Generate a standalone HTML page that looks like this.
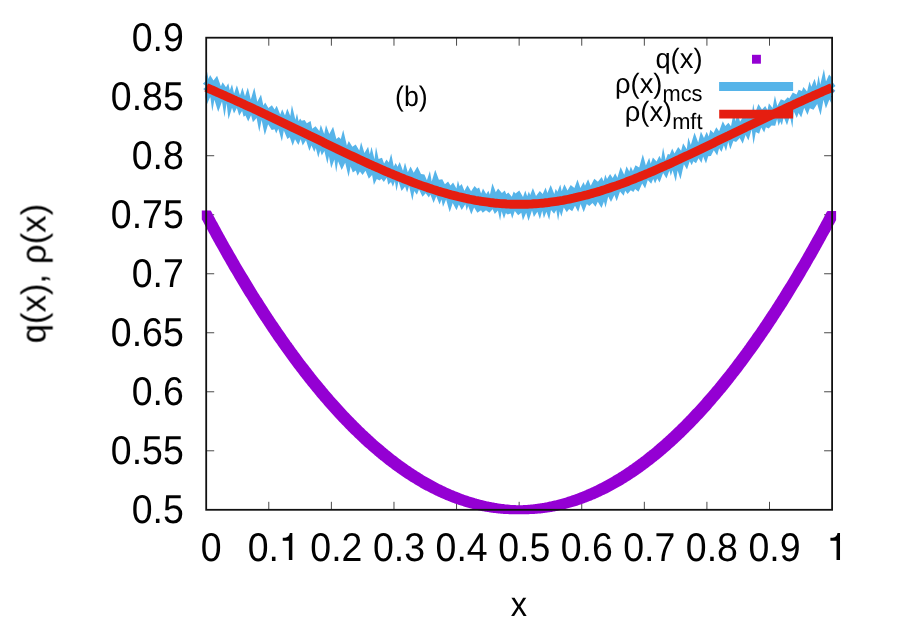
<!DOCTYPE html>
<html><head><meta charset="utf-8"><title>plot</title>
<style>html,body{margin:0;padding:0;background:#fff;overflow:hidden}svg{display:block}</style>
</head><body>
<svg width="900" height="630" viewBox="0 0 900 630">
<rect width="900" height="630" fill="#fff"/>
<path d="M268.79 509.80v-8M268.79 37.70v8M331.38 509.80v-8M331.38 37.70v8M393.97 509.80v-8M393.97 37.70v8M456.56 509.80v-8M456.56 37.70v8M519.15 509.80v-8M519.15 37.70v8M581.74 509.80v-8M581.74 37.70v8M644.33 509.80v-8M644.33 37.70v8M706.92 509.80v-8M706.92 37.70v8M769.51 509.80v-8M769.51 37.70v8M206.20 450.79h8M832.10 450.79h-8M206.20 391.78h8M832.10 391.78h-8M206.20 332.76h8M832.10 332.76h-8M206.20 273.75h8M832.10 273.75h-8M206.20 214.74h8M832.10 214.74h-8M206.20 155.72h8M832.10 155.72h-8M206.20 96.71h8M832.10 96.71h-8" stroke="#4a4a4a" stroke-width="1.0" fill="none"/>
<path d="M201.8 210.5L202.8 210.5L203.7 210.5L204.6 210.5L205.5 210.5L206.4 210.5L207.3 210.5L208.2 210.5L209.1 210.5L210.0 210.5L210.9 210.8L211.8 212.5L212.7 214.2L213.6 215.9L214.5 217.6L215.4 219.3L216.3 220.9L217.3 222.6L218.2 224.3L219.1 225.9L220.0 227.6L220.9 229.3L221.8 230.9L222.7 232.6L223.6 234.2L224.5 235.8L225.4 237.5L226.3 239.1L227.2 240.7L228.1 242.3L229.0 243.9L229.9 245.5L230.8 247.1L231.8 248.7L232.7 250.3L233.6 251.9L234.5 253.5L235.4 255.1L236.3 256.6L237.2 258.2L238.1 259.8L239.0 261.3L239.9 262.9L240.8 264.4L241.7 266.0L242.6 267.5L243.5 269.0L244.4 270.6L245.3 272.1L246.2 273.6L247.2 275.1L248.1 276.6L249.0 278.1L249.9 279.6L250.8 281.1L251.7 282.6L252.6 284.1L253.5 285.6L254.4 287.0L255.3 288.5L256.2 290.0L257.1 291.4L258.0 292.9L258.9 294.3L259.8 295.8L260.7 297.2L261.7 298.6L262.6 300.1L263.5 301.5L264.4 302.9L265.3 304.3L266.2 305.7L267.1 307.1L268.0 308.5L268.9 309.9L269.8 311.3L270.7 312.7L271.6 314.1L272.5 315.4L273.4 316.8L274.3 318.2L275.2 319.5L276.1 320.9L277.1 322.2L278.0 323.6L278.9 324.9L279.8 326.2L280.7 327.6L281.6 328.9L282.5 330.2L283.4 331.5L284.3 332.8L285.2 334.1L286.1 335.4L287.0 336.7L287.9 338.0L288.8 339.3L289.7 340.6L290.6 341.9L291.6 343.1L292.5 344.4L293.4 345.6L294.3 346.9L295.2 348.2L296.1 349.4L297.0 350.6L297.9 351.9L298.8 353.1L299.7 354.3L300.6 355.5L301.5 356.8L302.4 358.0L303.3 359.2L304.2 360.4L305.1 361.6L306.0 362.8L307.0 363.9L307.9 365.1L308.8 366.3L309.7 367.5L310.6 368.6L311.5 369.8L312.4 371.0L313.3 372.1L314.2 373.2L315.1 374.4L316.0 375.5L316.9 376.7L317.8 377.8L318.7 378.9L319.6 380.0L320.5 381.1L321.5 382.2L322.4 383.3L323.3 384.4L324.2 385.5L325.1 386.6L326.0 387.7L326.9 388.8L327.8 389.8L328.7 390.9L329.6 392.0L330.5 393.0L331.4 394.1L332.3 395.1L333.2 396.2L334.1 397.2L335.0 398.2L335.9 399.3L336.9 400.3L337.8 401.3L338.7 402.3L339.6 403.3L340.5 404.3L341.4 405.3L342.3 406.3L343.2 407.3L344.1 408.3L345.0 409.3L345.9 410.2L346.8 411.2L347.7 412.2L348.6 413.1L349.5 414.1L350.4 415.0L351.4 416.0L352.3 416.9L353.2 417.8L354.1 418.8L355.0 419.7L355.9 420.6L356.8 421.5L357.7 422.4L358.6 423.3L359.5 424.2L360.4 425.1L361.3 426.0L362.2 426.9L363.1 427.8L364.0 428.6L364.9 429.5L365.8 430.4L366.8 431.2L367.7 432.1L368.6 432.9L369.5 433.8L370.4 434.6L371.3 435.5L372.2 436.3L373.1 437.1L374.0 437.9L374.9 438.7L375.8 439.6L376.7 440.4L377.6 441.2L378.5 441.9L379.4 442.7L380.3 443.5L381.3 444.3L382.2 445.1L383.1 445.8L384.0 446.6L384.9 447.4L385.8 448.1L386.7 448.9L387.6 449.6L388.5 450.4L389.4 451.1L390.3 451.8L391.2 452.6L392.1 453.3L393.0 454.0L393.9 454.7L394.8 455.4L395.7 456.1L396.7 456.8L397.6 457.5L398.5 458.2L399.4 458.9L400.3 459.5L401.2 460.2L402.1 460.9L403.0 461.5L403.9 462.2L404.8 462.8L405.7 463.5L406.6 464.1L407.5 464.8L408.4 465.4L409.3 466.0L410.2 466.6L411.2 467.3L412.1 467.9L413.0 468.5L413.9 469.1L414.8 469.7L415.7 470.3L416.6 470.8L417.5 471.4L418.4 472.0L419.3 472.6L420.2 473.1L421.1 473.7L422.0 474.3L422.9 474.8L423.8 475.4L424.7 475.9L425.6 476.4L426.6 477.0L427.5 477.5L428.4 478.0L429.3 478.5L430.2 479.1L431.1 479.6L432.0 480.1L432.9 480.6L433.8 481.1L434.7 481.5L435.6 482.0L436.5 482.5L437.4 483.0L438.3 483.4L439.2 483.9L440.1 484.4L441.1 484.8L442.0 485.3L442.9 485.7L443.8 486.2L444.7 486.6L445.6 487.0L446.5 487.4L447.4 487.9L448.3 488.3L449.2 488.7L450.1 489.1L451.0 489.5L451.9 489.9L452.8 490.3L453.7 490.6L454.6 491.0L455.6 491.4L456.5 491.8L457.4 492.1L458.3 492.5L459.2 492.8L460.1 493.2L461.0 493.5L461.9 493.9L462.8 494.2L463.7 494.5L464.6 494.9L465.5 495.2L466.4 495.5L467.3 495.8L468.2 496.1L469.1 496.4L470.0 496.7L471.0 497.0L471.9 497.3L472.8 497.6L473.7 497.8L474.6 498.1L475.5 498.4L476.4 498.6L477.3 498.9L478.2 499.1L479.1 499.4L480.0 499.6L480.9 499.9L481.8 500.1L482.7 500.3L483.6 500.5L484.5 500.8L485.5 501.0L486.4 501.2L487.3 501.4L488.2 501.6L489.1 501.8L490.0 501.9L490.9 502.1L491.8 502.3L492.7 502.5L493.6 502.6L494.5 502.8L495.4 503.0L496.3 503.1L497.2 503.3L498.1 503.4L499.0 503.5L499.9 503.7L500.9 503.8L501.8 503.9L502.7 504.0L503.6 504.1L504.5 504.2L505.4 504.4L506.3 504.4L507.2 504.5L508.1 504.6L509.0 504.7L509.9 504.8L510.8 504.9L511.7 504.9L512.6 505.0L513.5 505.0L514.4 505.1L515.4 505.1L516.3 505.2L517.2 505.2L518.1 505.3L519.0 505.3L519.9 505.3L520.8 505.2L521.7 505.2L522.6 505.2L523.5 505.1L524.4 505.1L525.3 505.0L526.2 504.9L527.1 504.9L528.0 504.8L528.9 504.7L529.8 504.7L530.8 504.6L531.7 504.5L532.6 504.4L533.5 504.3L534.4 504.2L535.3 504.1L536.2 504.0L537.1 503.8L538.0 503.7L538.9 503.6L539.8 503.4L540.7 503.3L541.6 503.2L542.5 503.0L543.4 502.9L544.3 502.7L545.3 502.5L546.2 502.4L547.1 502.2L548.0 502.0L548.9 501.8L549.8 501.6L550.7 501.4L551.6 501.2L552.5 501.0L553.4 500.8L554.3 500.6L555.2 500.4L556.1 500.2L557.0 500.0L557.9 499.7L558.8 499.5L559.7 499.2L560.7 499.0L561.6 498.7L562.5 498.5L563.4 498.2L564.3 497.9L565.2 497.7L566.1 497.4L567.0 497.1L567.9 496.8L568.8 496.5L569.7 496.2L570.6 495.9L571.5 495.6L572.4 495.3L573.3 495.0L574.2 494.7L575.2 494.3L576.1 494.0L577.0 493.7L577.9 493.3L578.8 493.0L579.7 492.6L580.6 492.3L581.5 491.9L582.4 491.5L583.3 491.2L584.2 490.8L585.1 490.4L586.0 490.0L586.9 489.6L587.8 489.2L588.7 488.8L589.6 488.4L590.6 488.0L591.5 487.6L592.4 487.2L593.3 486.8L594.2 486.3L595.1 485.9L596.0 485.4L596.9 485.0L597.8 484.5L598.7 484.1L599.6 483.6L600.5 483.2L601.4 482.7L602.3 482.2L603.2 481.7L604.1 481.2L605.1 480.8L606.0 480.3L606.9 479.8L607.8 479.3L608.7 478.7L609.6 478.2L610.5 477.7L611.4 477.2L612.3 476.7L613.2 476.1L614.1 475.6L615.0 475.0L615.9 474.5L616.8 473.9L617.7 473.4L618.6 472.8L619.5 472.2L620.5 471.7L621.4 471.1L622.3 470.5L623.2 469.9L624.1 469.3L625.0 468.7L625.9 468.1L626.8 467.5L627.7 466.9L628.6 466.3L629.5 465.6L630.4 465.0L631.3 464.4L632.2 463.7L633.1 463.1L634.0 462.4L635.0 461.8L635.9 461.1L636.8 460.5L637.7 459.8L638.6 459.1L639.5 458.4L640.4 457.8L641.3 457.1L642.2 456.4L643.1 455.7L644.0 455.0L644.9 454.3L645.8 453.5L646.7 452.8L647.6 452.1L648.5 451.4L649.4 450.6L650.4 449.9L651.3 449.2L652.2 448.4L653.1 447.7L654.0 446.9L654.9 446.1L655.8 445.4L656.7 444.6L657.6 443.8L658.5 443.0L659.4 442.3L660.3 441.5L661.2 440.7L662.1 439.9L663.0 439.1L663.9 438.2L664.9 437.4L665.8 436.6L666.7 435.8L667.6 434.9L668.5 434.1L669.4 433.3L670.3 432.4L671.2 431.6L672.1 430.7L673.0 429.8L673.9 429.0L674.8 428.1L675.7 427.2L676.6 426.4L677.5 425.5L678.4 424.6L679.3 423.7L680.3 422.8L681.2 421.9L682.1 421.0L683.0 420.0L683.9 419.1L684.8 418.2L685.7 417.3L686.6 416.3L687.5 415.4L688.4 414.4L689.3 413.5L690.2 412.5L691.1 411.6L692.0 410.6L692.9 409.6L693.8 408.7L694.8 407.7L695.7 406.7L696.6 405.7L697.5 404.7L698.4 403.7L699.3 402.7L700.2 401.7L701.1 400.7L702.0 399.7L702.9 398.6L703.8 397.6L704.7 396.6L705.6 395.5L706.5 394.5L707.4 393.4L708.3 392.4L709.3 391.3L710.2 390.3L711.1 389.2L712.0 388.1L712.9 387.0L713.8 385.9L714.7 384.9L715.6 383.8L716.5 382.7L717.4 381.6L718.3 380.4L719.2 379.3L720.1 378.2L721.0 377.1L721.9 376.0L722.8 374.8L723.7 373.7L724.7 372.5L725.6 371.4L726.5 370.2L727.4 369.1L728.3 367.9L729.2 366.8L730.1 365.6L731.0 364.4L731.9 363.2L732.8 362.0L733.7 360.8L734.6 359.6L735.5 358.4L736.4 357.2L737.3 356.0L738.2 354.8L739.2 353.6L740.1 352.3L741.0 351.1L741.9 349.9L742.8 348.6L743.7 347.4L744.6 346.1L745.5 344.9L746.4 343.6L747.3 342.3L748.2 341.1L749.1 339.8L750.0 338.5L750.9 337.2L751.8 335.9L752.7 334.6L753.6 333.3L754.6 332.0L755.5 330.7L756.4 329.4L757.3 328.1L758.2 326.7L759.1 325.4L760.0 324.1L760.9 322.7L761.8 321.4L762.7 320.0L763.6 318.7L764.5 317.3L765.4 316.0L766.3 314.6L767.2 313.2L768.1 311.8L769.1 310.4L770.0 309.1L770.9 307.7L771.8 306.3L772.7 304.8L773.6 303.4L774.5 302.0L775.4 300.6L776.3 299.2L777.2 297.7L778.1 296.3L779.0 294.9L779.9 293.4L780.8 292.0L781.7 290.5L782.6 289.1L783.5 287.6L784.5 286.1L785.4 284.6L786.3 283.2L787.2 281.7L788.1 280.2L789.0 278.7L789.9 277.2L790.8 275.7L791.7 274.2L792.6 272.7L793.5 271.1L794.4 269.6L795.3 268.1L796.2 266.6L797.1 265.0L798.0 263.5L799.0 261.9L799.9 260.4L800.8 258.8L801.7 257.2L802.6 255.7L803.5 254.1L804.4 252.5L805.3 250.9L806.2 249.3L807.1 247.8L808.0 246.2L808.9 244.6L809.8 242.9L810.7 241.3L811.6 239.7L812.5 238.1L813.4 236.5L814.4 234.8L815.3 233.2L816.2 231.5L817.1 229.9L818.0 228.2L818.9 226.6L819.8 224.9L820.7 223.3L821.6 221.6L822.5 219.9L823.4 218.2L824.3 216.5L825.2 214.8L826.1 213.1L827.0 211.4L827.9 211.1L828.9 211.1L829.8 211.1L830.7 211.1L831.6 211.1L832.5 211.1L833.4 211.1L834.3 211.1L835.2 211.1L836.1 211.1L836.1 220.0L835.2 221.7L834.3 223.4L833.4 225.1L832.5 226.8L831.6 228.5L830.7 230.2L829.8 231.9L828.9 233.5L827.9 235.2L827.0 236.8L826.1 238.5L825.2 240.2L824.3 241.8L823.4 243.4L822.5 245.1L821.6 246.7L820.7 248.3L819.8 249.9L818.9 251.6L818.0 253.2L817.1 254.8L816.2 256.4L815.3 258.0L814.4 259.6L813.4 261.1L812.5 262.7L811.6 264.3L810.7 265.9L809.8 267.4L808.9 269.0L808.0 270.5L807.1 272.1L806.2 273.6L805.3 275.2L804.4 276.7L803.5 278.2L802.6 279.8L801.7 281.3L800.8 282.8L799.9 284.3L799.0 285.8L798.0 287.3L797.1 288.8L796.2 290.3L795.3 291.8L794.4 293.3L793.5 294.8L792.6 296.2L791.7 297.7L790.8 299.2L789.9 300.6L789.0 302.1L788.1 303.5L787.2 305.0L786.3 306.4L785.4 307.8L784.5 309.2L783.5 310.7L782.6 312.1L781.7 313.5L780.8 314.9L779.9 316.3L779.0 317.7L778.1 319.1L777.2 320.5L776.3 321.9L775.4 323.2L774.5 324.6L773.6 326.0L772.7 327.3L771.8 328.7L770.9 330.1L770.0 331.4L769.1 332.7L768.1 334.1L767.2 335.4L766.3 336.7L765.4 338.1L764.5 339.4L763.6 340.7L762.7 342.0L761.8 343.3L760.9 344.6L760.0 345.9L759.1 347.2L758.2 348.5L757.3 349.7L756.4 351.0L755.5 352.3L754.6 353.6L753.6 354.8L752.7 356.1L751.8 357.3L750.9 358.6L750.0 359.8L749.1 361.0L748.2 362.3L747.3 363.5L746.4 364.7L745.5 365.9L744.6 367.1L743.7 368.3L742.8 369.5L741.9 370.7L741.0 371.9L740.1 373.1L739.2 374.3L738.2 375.4L737.3 376.6L736.4 377.8L735.5 378.9L734.6 380.1L733.7 381.2L732.8 382.4L731.9 383.5L731.0 384.7L730.1 385.8L729.2 386.9L728.3 388.0L727.4 389.2L726.5 390.3L725.6 391.4L724.7 392.5L723.7 393.6L722.8 394.7L721.9 395.7L721.0 396.8L720.1 397.9L719.2 399.0L718.3 400.0L717.4 401.1L716.5 402.1L715.6 403.2L714.7 404.2L713.8 405.3L712.9 406.3L712.0 407.3L711.1 408.4L710.2 409.4L709.3 410.4L708.3 411.4L707.4 412.4L706.5 413.4L705.6 414.4L704.7 415.4L703.8 416.4L702.9 417.4L702.0 418.4L701.1 419.3L700.2 420.3L699.3 421.3L698.4 422.2L697.5 423.2L696.6 424.1L695.7 425.1L694.8 426.0L693.8 426.9L692.9 427.9L692.0 428.8L691.1 429.7L690.2 430.6L689.3 431.5L688.4 432.4L687.5 433.3L686.6 434.2L685.7 435.1L684.8 436.0L683.9 436.9L683.0 437.7L682.1 438.6L681.2 439.5L680.3 440.3L679.3 441.2L678.4 442.0L677.5 442.9L676.6 443.7L675.7 444.5L674.8 445.4L673.9 446.2L673.0 447.0L672.1 447.8L671.2 448.6L670.3 449.4L669.4 450.2L668.5 451.0L667.6 451.8L666.7 452.6L665.8 453.4L664.9 454.1L663.9 454.9L663.0 455.7L662.1 456.4L661.2 457.2L660.3 457.9L659.4 458.7L658.5 459.4L657.6 460.1L656.7 460.9L655.8 461.6L654.9 462.3L654.0 463.0L653.1 463.7L652.2 464.5L651.3 465.1L650.4 465.8L649.4 466.5L648.5 467.2L647.6 467.9L646.7 468.6L645.8 469.2L644.9 469.9L644.0 470.6L643.1 471.2L642.2 471.9L641.3 472.5L640.4 473.2L639.5 473.8L638.6 474.4L637.7 475.0L636.8 475.7L635.9 476.3L635.0 476.9L634.0 477.5L633.1 478.1L632.2 478.7L631.3 479.3L630.4 479.9L629.5 480.5L628.6 481.0L627.7 481.6L626.8 482.2L625.9 482.7L625.0 483.3L624.1 483.8L623.2 484.4L622.3 484.9L621.4 485.5L620.5 486.0L619.5 486.5L618.6 487.0L617.7 487.6L616.8 488.1L615.9 488.6L615.0 489.1L614.1 489.6L613.2 490.1L612.3 490.5L611.4 491.0L610.5 491.5L609.6 492.0L608.7 492.4L607.8 492.9L606.9 493.4L606.0 493.8L605.1 494.3L604.1 494.7L603.2 495.1L602.3 495.6L601.4 496.0L600.5 496.4L599.6 496.8L598.7 497.3L597.8 497.7L596.9 498.1L596.0 498.5L595.1 498.9L594.2 499.2L593.3 499.6L592.4 500.0L591.5 500.4L590.6 500.7L589.6 501.1L588.7 501.5L587.8 501.8L586.9 502.2L586.0 502.5L585.1 502.8L584.2 503.2L583.3 503.5L582.4 503.8L581.5 504.2L580.6 504.5L579.7 504.8L578.8 505.1L577.9 505.4L577.0 505.7L576.1 506.0L575.2 506.2L574.2 506.5L573.3 506.8L572.4 507.1L571.5 507.3L570.6 507.6L569.7 507.8L568.8 508.1L567.9 508.3L567.0 508.6L566.1 508.8L565.2 509.0L564.3 509.3L563.4 509.5L562.5 509.7L561.6 509.9L560.7 510.1L559.7 510.3L558.8 510.5L557.9 510.7L557.0 510.9L556.1 511.1L555.2 511.2L554.3 511.4L553.4 511.6L552.5 511.7L551.6 511.9L550.7 512.0L549.8 512.2L548.9 512.3L548.0 512.5L547.1 512.6L546.2 512.7L545.3 512.8L544.3 513.0L543.4 513.1L542.5 513.2L541.6 513.3L540.7 513.4L539.8 513.5L538.9 513.5L538.0 513.6L537.1 513.7L536.2 513.8L535.3 513.8L534.4 513.9L533.5 514.0L532.6 514.0L531.7 514.1L530.8 514.1L529.8 514.1L528.9 514.2L528.0 514.2L527.1 514.2L526.2 514.2L525.3 514.2L524.4 514.2L523.5 514.2L522.6 514.2L521.7 514.2L520.8 514.2L519.9 514.2L519.0 514.2L518.1 514.2L517.2 514.2L516.3 514.2L515.4 514.2L514.4 514.2L513.5 514.2L512.6 514.2L511.7 514.2L510.8 514.2L509.9 514.2L509.0 514.2L508.1 514.1L507.2 514.1L506.3 514.0L505.4 514.0L504.5 513.9L503.6 513.9L502.7 513.8L501.8 513.7L500.9 513.7L499.9 513.6L499.0 513.5L498.1 513.4L497.2 513.3L496.3 513.2L495.4 513.1L494.5 513.0L493.6 512.9L492.7 512.8L491.8 512.7L490.9 512.5L490.0 512.4L489.1 512.3L488.2 512.1L487.3 512.0L486.4 511.8L485.5 511.7L484.5 511.5L483.6 511.3L482.7 511.2L481.8 511.0L480.9 510.8L480.0 510.6L479.1 510.4L478.2 510.2L477.3 510.0L476.4 509.8L475.5 509.6L474.6 509.4L473.7 509.2L472.8 509.0L471.9 508.7L471.0 508.5L470.0 508.2L469.1 508.0L468.2 507.7L467.3 507.5L466.4 507.2L465.5 507.0L464.6 506.7L463.7 506.4L462.8 506.1L461.9 505.8L461.0 505.6L460.1 505.3L459.2 505.0L458.3 504.7L457.4 504.3L456.5 504.0L455.6 503.7L454.6 503.4L453.7 503.1L452.8 502.7L451.9 502.4L451.0 502.0L450.1 501.7L449.2 501.3L448.3 501.0L447.4 500.6L446.5 500.2L445.6 499.9L444.7 499.5L443.8 499.1L442.9 498.7L442.0 498.3L441.1 497.9L440.1 497.5L439.2 497.1L438.3 496.7L437.4 496.3L436.5 495.8L435.6 495.4L434.7 495.0L433.8 494.5L432.9 494.1L432.0 493.6L431.1 493.2L430.2 492.7L429.3 492.3L428.4 491.8L427.5 491.3L426.6 490.8L425.6 490.4L424.7 489.9L423.8 489.4L422.9 488.9L422.0 488.4L421.1 487.9L420.2 487.4L419.3 486.8L418.4 486.3L417.5 485.8L416.6 485.2L415.7 484.7L414.8 484.2L413.9 483.6L413.0 483.1L412.1 482.5L411.2 481.9L410.2 481.4L409.3 480.8L408.4 480.2L407.5 479.6L406.6 479.1L405.7 478.5L404.8 477.9L403.9 477.3L403.0 476.7L402.1 476.0L401.2 475.4L400.3 474.8L399.4 474.2L398.5 473.5L397.6 472.9L396.7 472.3L395.7 471.6L394.8 471.0L393.9 470.3L393.0 469.7L392.1 469.0L391.2 468.3L390.3 467.6L389.4 467.0L388.5 466.3L387.6 465.6L386.7 464.9L385.8 464.2L384.9 463.5L384.0 462.8L383.1 462.0L382.2 461.3L381.3 460.6L380.3 459.9L379.4 459.1L378.5 458.4L377.6 457.6L376.7 456.9L375.8 456.1L374.9 455.4L374.0 454.6L373.1 453.8L372.2 453.1L371.3 452.3L370.4 451.5L369.5 450.7L368.6 449.9L367.7 449.1L366.8 448.3L365.8 447.5L364.9 446.7L364.0 445.9L363.1 445.0L362.2 444.2L361.3 443.4L360.4 442.5L359.5 441.7L358.6 440.8L357.7 440.0L356.8 439.1L355.9 438.3L355.0 437.4L354.1 436.5L353.2 435.6L352.3 434.8L351.4 433.9L350.4 433.0L349.5 432.1L348.6 431.2L347.7 430.3L346.8 429.3L345.9 428.4L345.0 427.5L344.1 426.6L343.2 425.6L342.3 424.7L341.4 423.8L340.5 422.8L339.6 421.9L338.7 420.9L337.8 419.9L336.9 419.0L335.9 418.0L335.0 417.0L334.1 416.0L333.2 415.0L332.3 414.0L331.4 413.0L330.5 412.0L329.6 411.0L328.7 410.0L327.8 409.0L326.9 408.0L326.0 407.0L325.1 405.9L324.2 404.9L323.3 403.8L322.4 402.8L321.5 401.7L320.5 400.7L319.6 399.6L318.7 398.6L317.8 397.5L316.9 396.4L316.0 395.3L315.1 394.2L314.2 393.1L313.3 392.0L312.4 390.9L311.5 389.8L310.6 388.7L309.7 387.6L308.8 386.5L307.9 385.4L307.0 384.2L306.0 383.1L305.1 381.9L304.2 380.8L303.3 379.6L302.4 378.5L301.5 377.3L300.6 376.2L299.7 375.0L298.8 373.8L297.9 372.6L297.0 371.4L296.1 370.3L295.2 369.1L294.3 367.9L293.4 366.7L292.5 365.4L291.6 364.2L290.6 363.0L289.7 361.8L288.8 360.6L287.9 359.3L287.0 358.1L286.1 356.8L285.2 355.6L284.3 354.3L283.4 353.1L282.5 351.8L281.6 350.5L280.7 349.3L279.8 348.0L278.9 346.7L278.0 345.4L277.1 344.1L276.1 342.8L275.2 341.5L274.3 340.2L273.4 338.9L272.5 337.6L271.6 336.2L270.7 334.9L269.8 333.6L268.9 332.2L268.0 330.9L267.1 329.5L266.2 328.2L265.3 326.8L264.4 325.5L263.5 324.1L262.6 322.7L261.7 321.3L260.7 319.9L259.8 318.6L258.9 317.2L258.0 315.8L257.1 314.4L256.2 313.0L255.3 311.5L254.4 310.1L253.5 308.7L252.6 307.3L251.7 305.8L250.8 304.4L249.9 303.0L249.0 301.5L248.1 300.1L247.2 298.6L246.2 297.1L245.3 295.7L244.4 294.2L243.5 292.7L242.6 291.2L241.7 289.7L240.8 288.2L239.9 286.7L239.0 285.2L238.1 283.7L237.2 282.2L236.3 280.7L235.4 279.2L234.5 277.7L233.6 276.1L232.7 274.6L231.8 273.0L230.8 271.5L229.9 269.9L229.0 268.4L228.1 266.8L227.2 265.3L226.3 263.7L225.4 262.1L224.5 260.5L223.6 258.9L222.7 257.4L221.8 255.8L220.9 254.2L220.0 252.5L219.1 250.9L218.2 249.3L217.3 247.7L216.3 246.1L215.4 244.4L214.5 242.8L213.6 241.2L212.7 239.5L211.8 237.9L210.9 236.2L210.0 234.5L209.1 232.9L208.2 231.2L207.3 229.5L206.4 227.9L205.5 226.2L204.6 224.5L203.7 222.8L202.8 221.1L201.8 219.4Z" fill="#9400d3"/>
<rect x="752" y="54.8" width="8.9" height="8.9" fill="#9400d3"/>
<path d="M202.8 83.7L206.2 80.8V86.0ZM203.2 89.1L206.2 86.6V91.8ZM835.5 86.0L832.1 81.5V88.5ZM835.3 90.7L832.1 87.5V94.5Z" fill="#56b4e9"/>
<path d="M205.4 76.8L207.0 71.4L208.5 78.9L210.1 75.1L213.5 80.4L217.1 75.8L220.9 86.2L222.6 82.2L226.0 87.2L228.3 83.2L229.8 90.2L232.0 84.2L234.1 93.4L236.9 85.3L240.0 95.3L242.4 87.4L245.0 96.3L247.8 87.4L250.8 99.6L254.3 87.4L257.3 101.8L261.0 94.5L263.4 105.4L265.2 102.5L268.4 108.0L271.9 105.3L274.6 109.5L276.7 105.8L280.2 114.5L282.2 109.2L285.0 115.4L287.3 108.6L290.3 116.1L291.9 105.0L295.4 119.8L297.0 113.2L298.6 121.3L300.1 118.6L301.7 120.7L304.6 120.0L306.8 123.2L310.6 120.9L312.2 128.8L315.6 126.3L319.3 131.0L320.8 124.7L324.2 133.9L326.0 125.0L329.3 134.1L333.1 126.7L336.4 139.1L338.7 137.1L340.8 139.0L343.2 129.7L346.9 145.5L348.8 141.0L352.4 146.8L355.7 144.4L359.3 150.4L361.1 141.9L364.4 152.9L368.1 146.8L369.8 154.2L371.5 146.7L374.5 159.3L376.0 146.7L378.6 158.9L382.0 157.8L384.1 163.4L386.5 159.4L388.8 162.6L391.2 153.5L393.8 166.5L395.7 163.1L397.5 166.7L399.7 162.1L403.0 170.7L405.0 162.6L407.8 172.2L410.6 166.4L413.7 172.8L417.4 166.5L421.0 174.0L424.4 174.4L426.9 180.3L429.9 170.9L431.7 181.6L435.2 169.8L438.9 179.7L442.3 179.3L444.9 184.3L448.1 181.4L450.5 185.4L453.1 182.5L456.4 188.5L457.9 180.4L459.6 186.3L461.7 184.1L464.4 190.7L467.5 185.3L471.1 191.3L474.6 186.0L477.1 188.7L479.1 187.6L481.1 193.5L483.0 188.4L486.2 193.9L488.4 190.8L489.9 194.8L492.4 183.3L495.8 192.2L498.1 188.4L501.9 193.1L504.8 190.5L506.3 194.3L508.3 192.4L511.8 196.7L513.7 191.5L515.5 193.6L519.3 190.4L523.0 197.0L525.3 190.6L527.2 196.3L528.8 191.5L530.2 194.9L532.9 187.9L536.0 196.1L539.8 190.9L542.7 193.9L545.6 187.5L547.4 193.1L550.7 185.1L554.3 193.9L555.7 188.7L557.4 191.7L560.3 184.5L561.7 191.2L564.4 184.2L567.5 190.4L570.7 184.9L574.4 188.0L577.5 179.4L580.4 187.9L583.6 181.9L585.0 185.7L588.1 179.2L590.7 185.8L594.3 178.8L597.9 181.8L601.7 177.0L603.6 181.2L605.3 174.4L607.0 178.9L610.1 174.0L612.7 178.0L615.2 173.2L617.4 177.8L620.6 166.9L624.2 174.7L626.5 166.3L629.3 171.6L630.8 166.4L632.9 171.1L635.5 165.2L639.2 167.6L642.8 154.2L645.9 165.6L649.2 157.7L650.7 163.8L652.9 157.6L656.6 161.6L659.4 155.7L661.2 159.6L663.1 147.2L665.6 160.0L667.8 154.1L669.8 154.4L672.2 148.5L674.5 153.5L678.2 147.0L681.1 150.7L683.1 143.3L686.8 149.2L688.3 137.2L690.8 144.9L694.5 132.5L698.2 142.4L700.9 131.5L704.0 138.1L706.7 131.8L708.7 136.5L710.4 129.7L713.5 133.1L716.3 127.2L719.1 131.2L722.8 121.2L725.3 126.0L728.4 122.7L731.0 126.2L734.0 111.1L735.5 121.6L737.4 112.0L740.0 121.7L743.4 116.3L746.6 118.3L748.4 114.0L751.4 117.4L753.3 103.6L754.9 113.6L758.4 104.1L762.0 109.6L765.2 105.9L767.5 109.9L768.9 103.3L772.6 108.1L774.9 95.6L777.3 106.0L780.9 99.3L784.5 100.7L787.7 97.3L789.3 98.6L792.8 92.6L796.5 94.4L798.7 89.8L801.9 90.9L803.4 86.9L807.1 91.4L809.5 81.6L811.3 86.7L814.6 78.8L816.7 86.2L818.6 75.3L820.2 84.7L823.9 69.1L826.0 81.4L829.1 74.4L831.5 77.3L831.5 103.8L829.4 99.5L825.9 108.5L823.5 99.8L820.6 115.5L817.2 104.0L813.5 109.7L809.8 108.2L807.5 114.9L804.2 107.8L801.2 117.5L798.6 112.9L796.8 117.9L793.8 111.4L792.4 128.0L789.9 116.0L787.0 125.2L783.7 117.1L781.9 125.2L780.2 121.6L778.6 125.9L777.1 119.1L775.2 125.8L771.5 125.4L768.7 128.6L765.9 127.2L764.2 132.6L761.2 127.5L759.1 133.7L755.8 132.0L753.5 144.4L751.7 129.6L748.4 140.6L745.6 135.1L742.7 143.7L739.7 137.9L736.1 141.9L733.4 141.1L730.3 149.4L728.2 141.7L726.0 151.2L723.9 145.3L721.5 152.0L719.1 148.2L717.2 155.6L713.8 150.2L710.9 156.1L708.2 156.2L706.0 163.5L703.1 156.4L701.5 163.1L698.5 158.2L696.0 163.3L693.4 161.3L691.7 165.3L689.7 161.2L687.0 169.6L683.9 164.3L680.5 179.6L677.6 170.6L675.8 181.7L672.6 170.2L670.8 176.1L669.4 170.4L666.5 178.6L663.1 173.1L659.6 182.6L657.2 178.4L655.1 183.5L653.2 179.1L651.2 183.7L647.8 179.9L645.1 188.4L642.2 183.6L638.5 191.7L635.1 188.9L633.4 192.1L630.8 190.2L627.6 194.0L625.2 190.8L623.7 195.7L620.0 191.6L616.7 201.2L614.4 194.9L611.0 202.0L608.2 196.4L605.5 207.8L604.0 201.6L601.5 208.0L597.8 201.7L595.5 206.7L592.5 203.0L589.3 205.9L586.8 203.9L583.7 212.3L580.6 204.0L578.2 212.1L575.0 205.8L572.2 211.3L569.1 209.1L566.8 212.3L563.8 207.6L561.4 216.7L559.7 211.2L558.1 220.8L556.3 210.0L554.1 213.8L551.0 210.1L549.2 220.1L546.4 211.7L543.9 218.2L542.2 210.7L539.9 219.2L537.4 211.7L533.9 216.9L532.0 210.4L528.5 221.0L526.2 212.8L522.9 220.6L521.3 212.8L518.2 215.2L514.8 211.0L512.2 218.7L510.8 213.5L507.6 214.4L505.9 212.9L504.0 218.7L501.6 211.3L500.1 220.7L497.9 210.4L494.8 214.1L492.6 209.2L489.4 212.8L486.0 210.3L482.7 212.8L481.0 210.3L477.4 212.8L474.1 207.4L471.3 214.5L468.2 206.1L466.7 210.7L465.3 204.3L461.7 209.9L458.9 204.5L456.5 210.2L452.7 203.1L449.7 212.2L446.1 199.6L443.0 207.1L441.5 199.5L439.6 204.6L436.3 196.2L433.6 203.1L430.4 194.6L428.9 197.6L425.7 193.3L422.5 196.8L419.0 189.6L416.9 194.7L414.2 191.0L412.4 200.7L409.1 186.0L407.1 192.5L405.1 186.6L401.5 190.9L398.5 181.3L396.5 191.2L394.9 181.3L392.9 186.8L391.0 182.0L388.2 184.7L386.8 177.8L383.8 181.9L381.4 178.8L379.6 180.6L376.8 179.0L373.9 184.9L372.1 175.1L368.8 178.7L365.5 170.8L362.6 175.1L359.9 171.6L357.6 175.8L355.8 170.4L352.8 172.4L350.6 166.5L348.6 177.1L345.2 162.7L341.7 169.9L338.0 161.3L336.2 172.6L334.4 159.5L331.2 168.3L328.9 155.9L327.4 163.9L324.4 151.1L321.8 155.4L320.2 150.4L318.3 157.8L315.8 148.1L314.3 152.1L311.5 145.5L309.4 151.1L306.0 140.2L302.7 145.5L300.7 139.3L298.4 145.0L295.0 139.2L292.7 145.7L289.8 137.2L287.4 139.1L283.8 130.6L281.9 141.5L278.3 128.8L276.2 133.6L274.6 129.3L271.7 129.9L268.1 124.2L264.8 135.2L261.6 120.1L259.3 132.1L256.6 118.1L252.9 122.3L251.1 115.2L248.2 121.4L245.5 115.4L243.6 116.8L242.1 110.9L239.2 115.7L236.9 108.0L234.0 113.4L232.0 107.7L228.5 119.6L226.6 103.2L224.5 117.2L222.0 101.5L218.2 112.1L214.4 99.8L212.3 111.4L210.3 96.7L207.1 103.9L205.4 97.2Z" fill="#56b4e9"/>
<path d="M719.1 86.55H793.1" stroke="#56b4e9" stroke-width="8.9"/>
<path d="M206.2 87.5L208.3 88.4L210.4 89.3L212.5 90.2L214.5 91.1L216.6 92.1L218.7 93.0L220.8 93.9L222.9 94.8L225.0 95.7L227.1 96.7L229.1 97.6L231.2 98.5L233.3 99.5L235.4 100.4L237.5 101.4L239.6 102.3L241.7 103.3L243.8 104.2L245.8 105.2L247.9 106.2L250.0 107.1L252.1 108.1L254.2 109.1L256.3 110.0L258.4 111.0L260.4 112.0L262.5 113.0L264.6 114.0L266.7 114.9L268.8 115.9L270.9 116.9L273.0 117.9L275.0 118.9L277.1 119.9L279.2 120.9L281.3 121.9L283.4 122.9L285.5 123.9L287.6 124.9L289.7 125.9L291.7 126.9L293.8 128.0L295.9 129.0L298.0 130.0L300.1 131.0L302.2 132.0L304.3 133.0L306.3 134.0L308.4 135.0L310.5 136.1L312.6 137.1L314.7 138.1L316.8 139.1L318.9 140.1L320.9 141.1L323.0 142.1L325.1 143.2L327.2 144.2L329.3 145.2L331.4 146.2L333.5 147.2L335.6 148.2L337.6 149.2L339.7 150.2L341.8 151.2L343.9 152.2L346.0 153.2L348.1 154.2L350.2 155.2L352.2 156.1L354.3 157.1L356.4 158.1L358.5 159.1L360.6 160.0L362.7 161.0L364.8 162.0L366.8 162.9L368.9 163.9L371.0 164.8L373.1 165.8L375.2 166.7L377.3 167.6L379.4 168.5L381.5 169.5L383.5 170.4L385.6 171.3L387.7 172.2L389.8 173.1L391.9 173.9L394.0 174.8L396.1 175.7L398.1 176.5L400.2 177.4L402.3 178.2L404.4 179.1L406.5 179.9L408.6 180.7L410.7 181.5L412.7 182.3L414.8 183.1L416.9 183.9L419.0 184.6L421.1 185.4L423.2 186.1L425.3 186.8L427.4 187.5L429.4 188.3L431.5 188.9L433.6 189.6L435.7 190.3L437.8 191.0L439.9 191.6L442.0 192.2L444.0 192.8L446.1 193.4L448.2 194.0L450.3 194.6L452.4 195.2L454.5 195.7L456.6 196.2L458.6 196.7L460.7 197.2L462.8 197.7L464.9 198.2L467.0 198.6L469.1 199.1L471.2 199.5L473.3 199.9L475.3 200.3L477.4 200.6L479.5 201.0L481.6 201.3L483.7 201.6L485.8 201.9L487.9 202.2L489.9 202.5L492.0 202.7L494.1 203.0L496.2 203.2L498.3 203.4L500.4 203.6L502.5 203.7L504.5 203.8L506.6 204.0L508.7 204.1L510.8 204.2L512.9 204.2L515.0 204.3L517.1 204.3L519.2 204.3L521.2 204.3L523.3 204.3L525.4 204.2L527.5 204.2L529.6 204.1L531.7 204.0L533.8 203.8L535.8 203.7L537.9 203.6L540.0 203.4L542.1 203.2L544.2 203.0L546.3 202.7L548.4 202.5L550.4 202.2L552.5 201.9L554.6 201.6L556.7 201.3L558.8 201.0L560.9 200.6L563.0 200.3L565.0 199.9L567.1 199.5L569.2 199.1L571.3 198.6L573.4 198.2L575.5 197.7L577.6 197.2L579.7 196.7L581.7 196.2L583.8 195.7L585.9 195.2L588.0 194.6L590.1 194.0L592.2 193.4L594.3 192.8L596.3 192.2L598.4 191.6L600.5 191.0L602.6 190.3L604.7 189.6L606.8 188.9L608.9 188.3L610.9 187.5L613.0 186.8L615.1 186.1L617.2 185.4L619.3 184.6L621.4 183.9L623.5 183.1L625.6 182.3L627.6 181.5L629.7 180.7L631.8 179.9L633.9 179.1L636.0 178.2L638.1 177.4L640.2 176.5L642.2 175.7L644.3 174.8L646.4 173.9L648.5 173.1L650.6 172.2L652.7 171.3L654.8 170.4L656.8 169.5L658.9 168.5L661.0 167.6L663.1 166.7L665.2 165.8L667.3 164.8L669.4 163.9L671.5 162.9L673.5 162.0L675.6 161.0L677.7 160.0L679.8 159.1L681.9 158.1L684.0 157.1L686.1 156.1L688.1 155.2L690.2 154.2L692.3 153.2L694.4 152.2L696.5 151.2L698.6 150.2L700.7 149.2L702.7 148.2L704.8 147.2L706.9 146.2L709.0 145.2L711.1 144.2L713.2 143.2L715.3 142.1L717.4 141.1L719.4 140.1L721.5 139.1L723.6 138.1L725.7 137.1L727.8 136.1L729.9 135.0L732.0 134.0L734.0 133.0L736.1 132.0L738.2 131.0L740.3 130.0L742.4 129.0L744.5 128.0L746.6 126.9L748.6 125.9L750.7 124.9L752.8 123.9L754.9 122.9L757.0 121.9L759.1 120.9L761.2 119.9L763.3 118.9L765.3 117.9L767.4 116.9L769.5 115.9L771.6 114.9L773.7 114.0L775.8 113.0L777.9 112.0L779.9 111.0L782.0 110.0L784.1 109.1L786.2 108.1L788.3 107.1L790.4 106.2L792.5 105.2L794.5 104.2L796.6 103.3L798.7 102.3L800.8 101.4L802.9 100.4L805.0 99.5L807.1 98.5L809.2 97.6L811.2 96.7L813.3 95.7L815.4 94.8L817.5 93.9L819.6 93.0L821.7 92.1L823.8 91.1L825.8 90.2L827.9 89.3L830.0 88.4L832.1 87.5" fill="none" stroke="#e51e10" stroke-width="8.9" stroke-linejoin="round"/>
<path d="M719.2 114.1H793.1" stroke="#e51e10" stroke-width="8.9"/>
<rect x="206.2" y="37.7" width="625.90" height="472.10" fill="none" stroke="#111" stroke-width="1.8"/>
<g font-family="Liberation Sans, sans-serif" fill="#000" opacity="0.999" style="text-rendering:geometricPrecision">
<text transform="translate(183.8 523.2) scale(0.933 1)" font-size="40.2" text-anchor="end">0.5</text>
<text transform="translate(183.8 464.2) scale(0.933 1)" font-size="40.2" text-anchor="end">0.55</text>
<text transform="translate(183.8 405.2) scale(0.933 1)" font-size="40.2" text-anchor="end">0.6</text>
<text transform="translate(183.8 346.2) scale(0.933 1)" font-size="40.2" text-anchor="end">0.65</text>
<text transform="translate(183.8 287.2) scale(0.933 1)" font-size="40.2" text-anchor="end">0.7</text>
<text transform="translate(183.8 228.1) scale(0.933 1)" font-size="40.2" text-anchor="end">0.75</text>
<text transform="translate(183.8 169.1) scale(0.933 1)" font-size="40.2" text-anchor="end">0.8</text>
<text transform="translate(183.8 110.1) scale(0.933 1)" font-size="40.2" text-anchor="end">0.85</text>
<text transform="translate(183.8 51.1) scale(0.933 1)" font-size="40.2" text-anchor="end">0.9</text>
<text transform="translate(211.2 560.5) scale(0.933 1)" font-size="40.2" text-anchor="middle">0</text>
<text transform="translate(247.7 560.5) scale(0.933 1)" font-size="40.2" text-anchor="start">0.</text>
<text transform="translate(336.4 560.5) scale(0.933 1)" font-size="40.2" text-anchor="middle">0.2</text>
<text transform="translate(399.0 560.5) scale(0.933 1)" font-size="40.2" text-anchor="middle">0.3</text>
<text transform="translate(461.6 560.5) scale(0.933 1)" font-size="40.2" text-anchor="middle">0.4</text>
<text transform="translate(524.2 560.5) scale(0.933 1)" font-size="40.2" text-anchor="middle">0.5</text>
<text transform="translate(586.7 560.5) scale(0.933 1)" font-size="40.2" text-anchor="middle">0.6</text>
<text transform="translate(649.3 560.5) scale(0.933 1)" font-size="40.2" text-anchor="middle">0.7</text>
<text transform="translate(711.9 560.5) scale(0.933 1)" font-size="40.2" text-anchor="middle">0.8</text>
<text transform="translate(774.5 560.5) scale(0.933 1)" font-size="40.2" text-anchor="middle">0.9</text>
<path d="M292.35 560.1V533.00H289.85Q289.25 537.20 285.15 537.80H282.75V540.70H288.85V560.1ZM840.02 560.1V533.00H837.52Q836.92 537.20 832.82 537.80H830.42V540.70H836.52V560.1Z"/>
<text transform="translate(518.9 615.8) scale(0.943 1)" font-size="34.5" text-anchor="middle">x</text>
<text transform="translate(45.5 273.6) rotate(-90) scale(1.0 1)" font-size="34.8" text-anchor="middle">q(x), ρ(x)</text>
<text transform="translate(395.0 105.8) scale(0.943 1)" font-size="28.3" text-anchor="start">(b)</text>
<text transform="translate(702.5 68.2) scale(0.976 1)" font-size="28" text-anchor="end">q(x)</text>
<text transform="translate(702.5 93.0) scale(0.976 1)" font-size="28" text-anchor="end">ρ(x)<tspan font-size="22.4" dy="8.4">mcs</tspan></text>
<text transform="translate(702.5 120.6) scale(0.976 1)" font-size="28" text-anchor="end">ρ(x)<tspan font-size="22.4" dy="8.4">mft</tspan></text>
</g>
</svg>
</body></html>
